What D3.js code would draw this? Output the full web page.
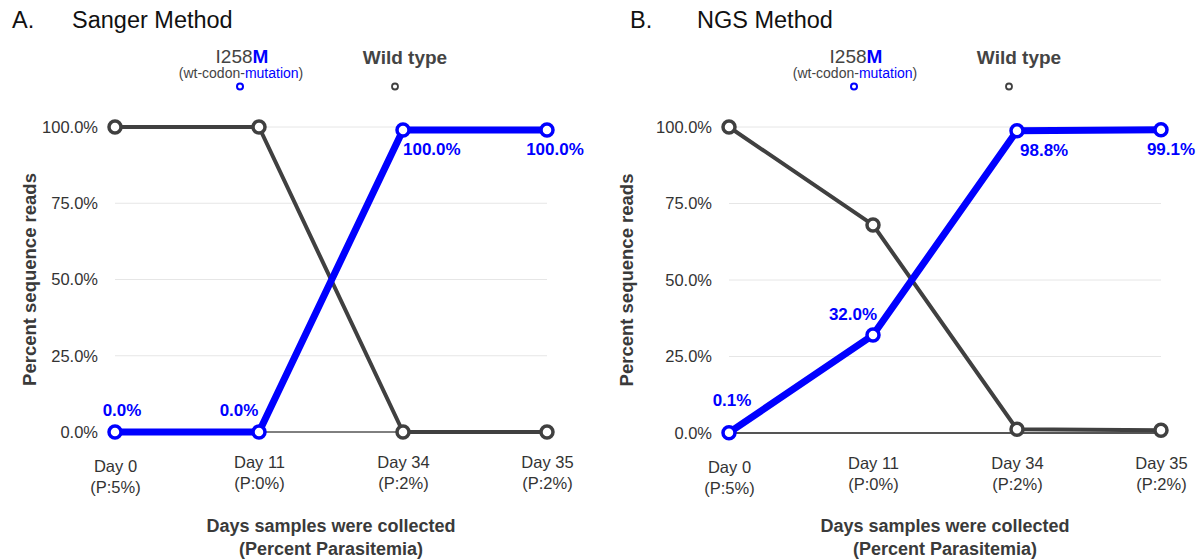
<!DOCTYPE html>
<html>
<head>
<meta charset="utf-8">
<script src="https://cdn.jsdelivr.net/npm/d3@7"></script>
<style>
  body { margin: 0; background: #fff; }
  svg { font-family: "Liberation Sans", Arial, sans-serif; }
</style>
</head>
<body>
<svg id="viz" width="1203" height="560"></svg>
<script>
const DAYS = ['Day 0', 'Day 11', 'Day 34', 'Day 35']
const PARASITEMIA = ['(P:5%)', '(P:0%)', '(P:2%)', '(P:2%)']
const Y_TICKS = [0, 25, 50, 75, 100]

// Sanger method
const SANGER_MUTANT = [0, 0, 99, 99]
const SANGER_WILD = [100, 100, 0, 0]
const SANGER_LABELS = ['0.0%', '0.0%', '100.0%', '100.0%']

// NGS method
const NGS_MUTANT = [0.1, 32.0, 98.8, 99.1]
const NGS_WILD = [100, 68, 1.2, 0.9]
const NGS_LABELS = ['0.1%', '32.0%', '98.8%', '99.1%']

const COLOR_MUT = '#0000ff'
const COLOR_WT = '#404040'
const FONT_TICK = 16.5

// [dx, dy, anchor] for each data label, relative to its point
const LABEL_POS_A = [[7, -16, 'middle'], [-20, -16, 'middle'], [0, 25, 'start'], [8, 25, 'middle']]
const LABEL_POS_B = [[3, -27, 'middle'], [-20, -15, 'middle'], [3, 25, 'start'], [10, 25, 'middle']]

const panels = [
    { letter: 'A.', letterX: 12, title: 'Sanger Method', titleX: 72, left: 115, right: 547, top: 127, bottom: 432,
      mutant: SANGER_MUTANT, wild: SANGER_WILD, labels: SANGER_LABELS, labelPos: LABEL_POS_A,
      zeroColor: '#000', zeroWidth: 1, yTitleX: 30 },
    { letter: 'B.', letterX: 630, title: 'NGS Method', titleX: 697, left: 729, right: 1161, top: 127, bottom: 433,
      mutant: NGS_MUTANT, wild: NGS_WILD, labels: NGS_LABELS, labelPos: LABEL_POS_B,
      zeroColor: '#555', zeroWidth: 2, yTitleX: 627 }
]

const svg = d3.select('#viz')

function drawPanel(p) {
    const g = svg.append('g')
    const x = d3.scalePoint().domain(DAYS).range([p.left, p.right])
    const y = d3.scaleLinear().domain([0, 100]).range([p.bottom, p.top])

    // title
    g.append('text').attr('x', p.letterX).attr('y', 28).attr('font-size', 23.5).attr('fill', '#111').text(p.letter)
    g.append('text').attr('x', p.titleX).attr('y', 28).attr('font-size', 23.5).attr('fill', '#111').text(p.title)

    // gridlines
    g.selectAll('.grid')
        .data(Y_TICKS.filter(t => t > 0))
        .enter().append('line')
            .attr('x1', p.left).attr('x2', p.right)
            .attr('y1', d => y(d)).attr('y2', d => y(d))
            .style('stroke', '#e6e6e6').style('stroke-width', 1)

    g.append('line')
        .attr('x1', p.left).attr('x2', p.right)
        .attr('y1', y(0)).attr('y2', y(0))
        .style('stroke', p.zeroColor).style('stroke-width', p.zeroWidth)

    // y axis
    const yAxis = d3.axisLeft(y).tickValues(Y_TICKS).tickSize(0).tickPadding(17)
        .tickFormat(d => d.toFixed(1) + '%')
    const ya = g.append('g').attr('transform', `translate(${p.left},0)`).call(yAxis)
    ya.select('.domain').remove()
    ya.selectAll('text').attr('font-size', FONT_TICK).attr('fill', '#333')
        .attr('font-family', '"Liberation Sans", Arial, sans-serif')

    // x axis
    const xAxis = d3.axisBottom(x).tickSize(0).tickPadding(0).tickFormat('')
    const xa = g.append('g').attr('transform', `translate(0,${p.bottom})`).call(xAxis)
    xa.select('.domain').remove()
    xa.selectAll('.tick').each(function (d, i) {
        const t = d3.select(this).append('text')
            .attr('text-anchor', 'middle').attr('font-size', FONT_TICK).attr('fill', '#333')
            .attr('font-family', '"Liberation Sans", Arial, sans-serif')
        const off = i === 0 ? 4 : 0
        t.append('tspan').attr('x', 0).attr('y', 36 + off).text(d)
        t.append('tspan').attr('x', 0).attr('y', 57 + off).text(PARASITEMIA[i])
    })

    const cx = (p.left + p.right) / 2
    g.append('text').attr('x', cx).attr('y', 532).attr('text-anchor', 'middle')
        .attr('font-size', 18).attr('font-weight', 'bold').attr('fill', '#3a3a3a')
        .text('Days samples were collected')
    g.append('text').attr('x', cx).attr('y', 555).attr('text-anchor', 'middle')
        .attr('font-size', 18).attr('font-weight', 'bold').attr('fill', '#3a3a3a')
        .text('(Percent Parasitemia)')

    g.append('text')
        .attr('transform', `translate(${p.yTitleX + 6},${(p.top + p.bottom) / 2}) rotate(-90)`)
        .attr('text-anchor', 'middle').attr('font-size', 18.5).attr('font-weight', 'bold').attr('fill', '#3a3a3a')
        .text('Percent sequence reads')

    // lines
    const line = d3.line().x((d, i) => x(DAYS[i])).y(d => y(d))
    g.append('path').datum(p.wild).attr('d', line)
        .style('fill', 'none').style('stroke', COLOR_WT).style('stroke-width', 4).style('stroke-linejoin', 'round')
    g.append('path').datum(p.mutant).attr('d', line)
        .style('fill', 'none').style('stroke', COLOR_MUT).style('stroke-width', 7).style('stroke-linejoin', 'round')

    // markers
    g.selectAll('.wt').data(p.wild).enter().append('circle')
        .attr('cx', (d, i) => x(DAYS[i])).attr('cy', d => y(d)).attr('r', 6)
        .style('fill', '#fff').style('stroke', COLOR_WT).style('stroke-width', 3.5)
    g.selectAll('.mut').data(p.mutant).enter().append('circle')
        .attr('cx', (d, i) => x(DAYS[i])).attr('cy', d => y(d)).attr('r', 6)
        .style('fill', '#fff').style('stroke', COLOR_MUT).style('stroke-width', 3.5)

    // data labels
    g.selectAll('.lab').data(p.mutant).enter().append('text')
        .attr('x', (d, i) => x(DAYS[i]) + p.labelPos[i][0])
        .attr('y', (d, i) => y(d) + p.labelPos[i][1])
        .attr('text-anchor', (d, i) => p.labelPos[i][2])
        .attr('font-size', 17).attr('font-weight', 'bold').attr('fill', COLOR_MUT)
        .text((d, i) => p.labels[i])

    // legend
    const mx = p.left + 125
    const lt = g.append('text').attr('x', mx + 2).attr('y', 63).attr('text-anchor', 'middle')
        .attr('font-size', 19).attr('fill', '#444')
    lt.append('tspan').text('I258')
    lt.append('tspan').attr('font-weight', 'bold').attr('fill', COLOR_MUT).text('M')
    const st = g.append('text').attr('x', mx + 1).attr('y', 78).attr('text-anchor', 'middle')
        .attr('font-size', 14).attr('fill', '#444')
    st.append('tspan').text('(wt-codon-')
    st.append('tspan').attr('fill', COLOR_MUT).text('mutation')
    st.append('tspan').text(')')
    g.append('circle').attr('cx', mx).attr('cy', 86.5).attr('r', 3)
        .style('fill', '#fff').style('stroke', COLOR_MUT).style('stroke-width', 2)

    const wx = p.left + 280
    g.append('text').attr('x', wx + 10).attr('y', 64).attr('text-anchor', 'middle')
        .attr('font-size', 19).attr('font-weight', 'bold').attr('fill', '#444').text('Wild type')
    g.append('circle').attr('cx', wx).attr('cy', 86.5).attr('r', 3)
        .style('fill', '#fff').style('stroke', COLOR_WT).style('stroke-width', 1.8)
}

panels.forEach(drawPanel)
</script>
</body>
</html>
